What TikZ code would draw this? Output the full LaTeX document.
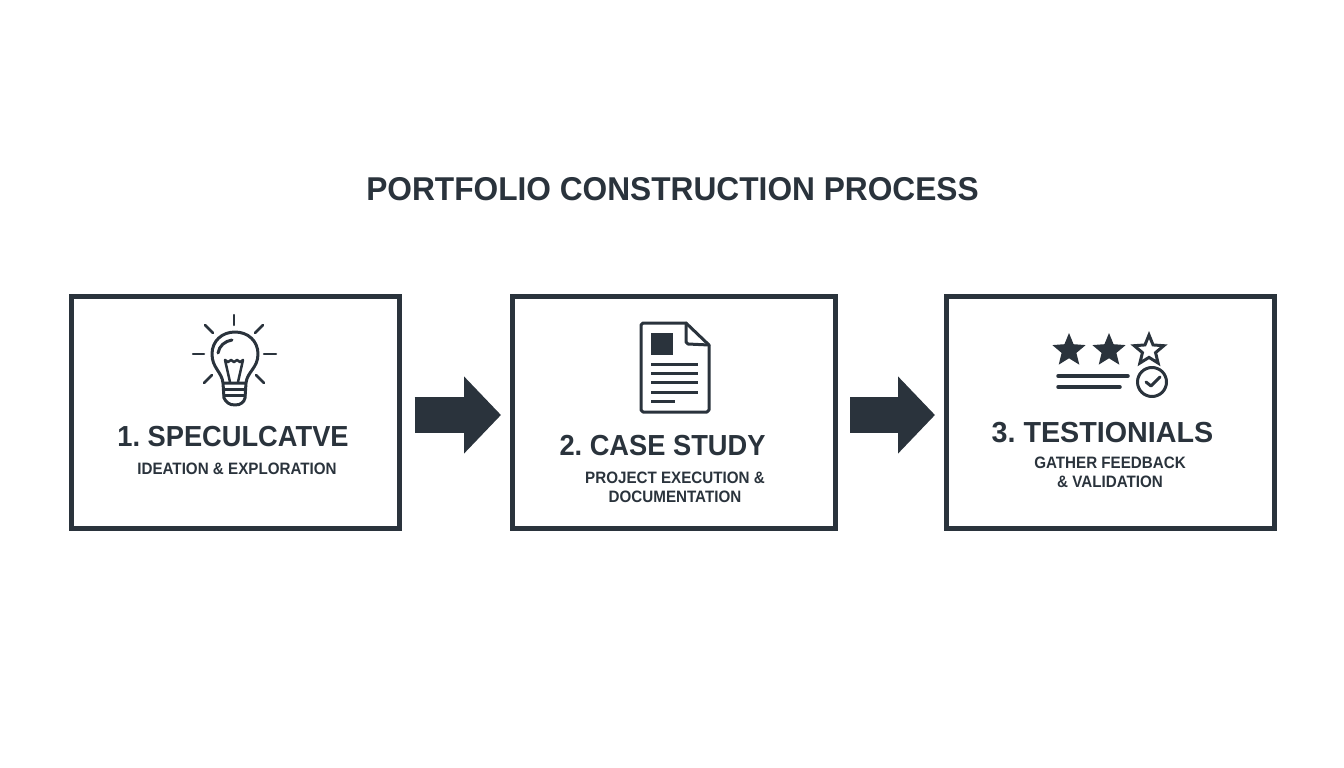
\documentclass[tikz,border=0pt]{standalone}
\usepackage{fontspec}
\setmainfont{Liberation Sans}
\newfontfamily\titlefont[FakeStretch=0.96]{Liberation Sans}
\newfontfamily\narrowfont[FakeStretch=0.94]{Liberation Sans}
\newfontfamily\widefont[FakeStretch=0.99]{Liberation Sans}
\newfontfamily\subfont[FakeStretch=0.92]{Liberation Sans}
\usetikzlibrary{arrows.meta}
\usetikzlibrary{positioning}
\usetikzlibrary{shapes.geometric}
\definecolor{ink}{HTML}{2A333C}
\frenchspacing
\tikzset{stepbox/.style = {draw = ink, line width = 5, inner sep = 0, outer sep = 0}}
\tikzset{flow/.style = {draw = ink, line width = 36, -{Triangle[length = 37, width = 75, fill = ink]}, shorten <= 15, shorten >= 11}}
\tikzset{heading/.style = {text = ink, font = \narrowfont\bfseries\fontsize{29}{29}\selectfont, inner sep = 0}}
\tikzset{subhead/.style = {text = ink, font = \subfont\bfseries\fontsize{16.5}{19}\selectfont, inner sep = 0, align = center}}
\tikzset{icon/.style = {draw = ink, line width = 3, line cap = round, line join = round}}
\tikzset{gold/.style = {star, star points = 5, star point ratio = 2.25, inner sep = 0, minimum size = 35}}
\begin{document}
\begin{tikzpicture}[x = 1pt, y = -1pt]
    \useasboundingbox (0, 0) rectangle (1344, 768);

    \node [text = ink, font = \titlefont\bfseries\fontsize{33}{33}\selectfont, inner sep = 0] (title) at (672.5, 189) {PORTFOLIO CONSTRUCTION PROCESS};

    \node [stepbox, minimum width = 328, minimum height = 232] (specbox) at (235.5, 412) {};
    \node [stepbox, minimum width = 323, minimum height = 232] (casebox) at (673.5, 412) {};
    \node [stepbox, minimum width = 328, minimum height = 232] (testbox) at (1110, 412) {};

    \draw [flow] ([yshift = -3]specbox.east) -- ([yshift = -3]casebox.west);
    \draw [flow] ([yshift = -3]casebox.east) -- ([yshift = -3]testbox.west);

    \node [heading] (spechead) at (233, 437) {1. SPECULCATVE};
    \node [subhead] (specsub) at (237, 469) {IDEATION \& EXPLORATION};

    \node [heading] (casehead) at (662.5, 446) {2. CASE STUDY};
    \node [subhead] (casesub) at (675, 487.5) {PROJECT EXECUTION \&\\DOCUMENTATION};

    \node [heading, font = \widefont\bfseries\fontsize{29}{29}\selectfont] (testhead) at (1102.5, 433) {3. TESTIONIALS};
    \node [subhead] (testsub) at (1110, 472.5) {GATHER FEEDBACK\\\& VALIDATION};

    % bulb
    \draw [icon] (223, 383) .. controls (222, 372) and (212, 368) .. (212, 354) .. controls (212, 341) and (222, 332) .. (235, 332) .. controls (248, 332) and (258, 341) .. (258, 354) .. controls (258, 368) and (247, 372) .. (246, 383) -- cycle;
    \draw [icon] (218, 353) .. controls (219, 346) and (225, 341) .. (232, 340);
    \draw [icon, line width = 2.5] (230, 382) -- (225, 360) -- (228, 362) -- (231, 360) -- (234, 362) -- (237, 360) -- (240, 362) -- (243, 360) -- (238, 382);
    \draw [icon] (224, 389) -- (245, 389);
    \draw [icon] (224, 395) -- (245, 395);
    \draw [icon] (223, 383) -- (224, 398) .. controls (226, 402) and (229, 405) .. (235, 405) .. controls (241, 405) and (244, 402) .. (245, 398) -- (246, 383);
    \foreach \a/\b/\c/\d in {234/315/234/325, 205/325/213/333, 263/325/255/333, 193/354/204/354, 264/354/276/354, 204/383/212/375, 264/383/256/375}
        \draw [icon, line width = 2.5] (\a, \b) -- (\c, \d);

    % page
    \draw [icon] (686, 323) -- (643, 323) -- (641, 325) -- (641, 410) -- (643, 412) -- (707, 412) -- (709, 410) -- (709, 345) -- cycle;
    \draw [icon] (686, 323) -- (686, 342) -- (688, 344) -- (709, 345);
    \fill [ink] (651, 333) rectangle (673, 355);
    \foreach \y in {364, 373, 382, 392}
        \draw [ink, line width = 3] (651, \y) -- (698, \y);
    \draw [ink, line width = 3] (651, 401) -- (675, 401);

    % rating
    \node [gold, fill = ink] (starA) at (1069, 350.5) {};
    \node [gold, fill = ink] (starB) at (1109, 350.5) {};
    \node [gold, draw = ink, line width = 3, minimum size = 31] (starC) at (1149, 350.5) {};
    \draw [icon, line width = 3.5] (1058, 376) -- (1128, 376);
    \draw [icon, line width = 3.5] (1058, 387) -- (1120, 387);
    \draw [icon] (1152, 382) circle [radius = 14.5];
    \draw [icon] (1146, 382) -- (1151, 386) -- (1160, 377);
\end{tikzpicture}
\end{document}
